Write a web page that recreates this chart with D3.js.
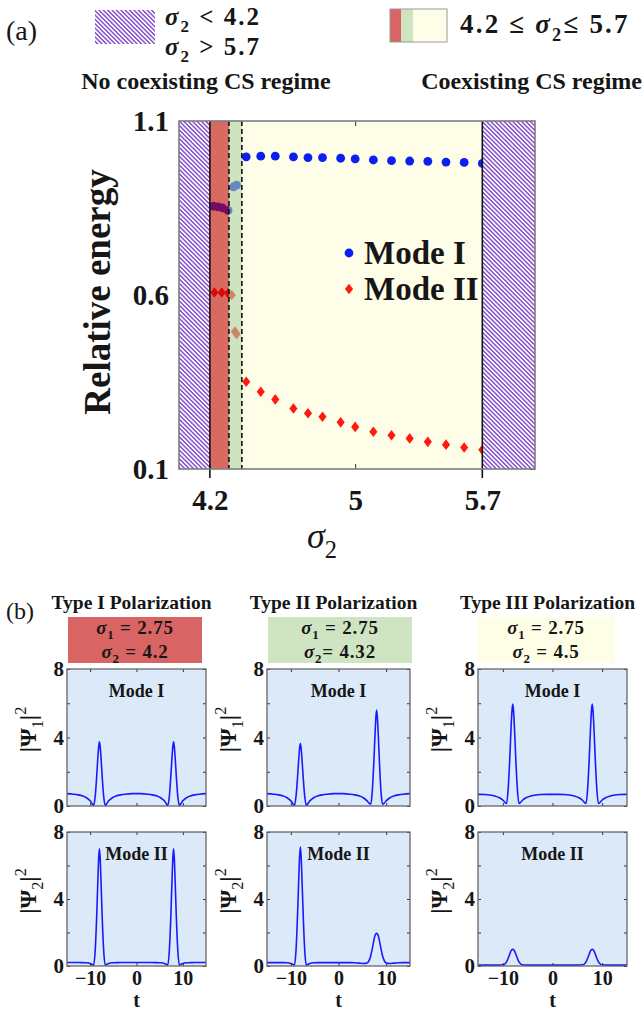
<!doctype html>
<html>
<head>
<meta charset="utf-8">
<style>
  body { margin: 0; background: #fff; }
  text { font-family: "Liberation Serif", "Times New Roman", serif; font-weight: bold; fill: #161616; }
  .axis path { display: none; }
  .axis line { stroke: #333; }
</style>
<script src="https://cdn.jsdelivr.net/npm/d3@7"></script>
</head>
<body>
<svg id="fig" width="643" height="1010"></svg>
<script>

// ---- panel (a) data ----
var modeI_sigma  = [4.22, 4.245, 4.27, 4.30, 4.33, 4.347, 4.4, 4.48, 4.56, 4.66, 4.74, 4.82, 4.92, 5.0, 5.1, 5.2, 5.3, 5.4, 5.5, 5.6, 5.7];
var modeI_energy = [0.855, 0.853, 0.850, 0.843, 0.911, 0.916, 0.997, 0.999, 0.999, 0.997, 0.995, 0.995, 0.993, 0.991, 0.988, 0.986, 0.985, 0.984, 0.982, 0.981, 0.978];
var modeII_sigma  = [4.225, 4.265, 4.30, 4.32, 4.338, 4.347, 4.4, 4.48, 4.56, 4.66, 4.74, 4.82, 4.92, 5.0, 5.1, 5.2, 5.3, 5.4, 5.5, 5.6, 5.7];
var modeII_energy = [0.607, 0.607, 0.605, 0.600, 0.495, 0.488, 0.351, 0.322, 0.300, 0.274, 0.260, 0.250, 0.234, 0.221, 0.207, 0.197, 0.188, 0.178, 0.170, 0.162, 0.155];
var sigmaTicks  = [4.2, 5, 5.7];
var energyTicks = [0.1, 0.6, 1.1];
var bandTypeI   = [4.2, 4.305];
var bandTypeII  = [4.305, 4.376];
var coexist     = [4.2, 5.7];

// ---- panel (b) data: |psi|^2 at these t values ----
var tGrid = [-15, -13.6, -12.6, -11.6, -10.8, -10, -9.6, -9.25, -8.9, -8.6, -8.35, -8.15, -8,
  -7.85, -7.65, -7.4, -7.1, -6.75, -6.4, -6, -5.2, -4.4, -3.4, -2.4, -1, 0,
  1, 2.4, 3.4, 4.4, 5.2, 6, 6.4, 6.75, 7.1, 7.4, 7.65, 7.85, 8,
  8.15, 8.35, 8.6, 8.9, 9.25, 9.6, 10, 10.8, 11.6, 12.6, 13.6, 15];

var typeI_mode1 = [0.72, 0.69, 0.65, 0.58, 0.48, 0.3, 0.15, 0.03, 0.6, 1.7, 2.8, 3.5, 3.75,
  3.5, 2.8, 1.7, 0.6, 0.03, 0.15, 0.3, 0.48, 0.58, 0.65, 0.69, 0.72, 0.72,
  0.72, 0.69, 0.65, 0.58, 0.48, 0.3, 0.15, 0.03, 0.6, 1.7, 2.8, 3.5, 3.75,
  3.5, 2.8, 1.7, 0.6, 0.03, 0.15, 0.3, 0.48, 0.58, 0.65, 0.69, 0.72];
var typeI_mode2 = [0.21, 0.21, 0.21, 0.2, 0.19, 0.15, 0.1, 0.05, 1.0, 2.9, 5.0, 6.5, 7.0,
  6.5, 5.0, 2.9, 1.0, 0.05, 0.1, 0.15, 0.19, 0.2, 0.21, 0.21, 0.21, 0.21,
  0.21, 0.21, 0.21, 0.2, 0.19, 0.15, 0.1, 0.05, 1.0, 2.9, 5.0, 6.5, 7.0,
  6.5, 5.0, 2.9, 1.0, 0.05, 0.1, 0.15, 0.19, 0.2, 0.21, 0.21, 0.21];
var typeII_mode1 = [0.72, 0.69, 0.65, 0.58, 0.48, 0.3, 0.15, 0.03, 0.6, 1.65, 2.7, 3.4, 3.65,
  3.4, 2.7, 1.65, 0.6, 0.03, 0.15, 0.3, 0.48, 0.58, 0.65, 0.69, 0.72, 0.72,
  0.72, 0.69, 0.65, 0.58, 0.48, 0.3, 0.17, 0.1, 0.9, 2.5, 4.1, 5.2, 5.6,
  5.2, 4.1, 2.5, 0.9, 0.1, 0.17, 0.3, 0.48, 0.58, 0.65, 0.69, 0.72];
var typeII_mode2 = [0.2, 0.2, 0.2, 0.2, 0.19, 0.15, 0.1, 0.05, 1.0, 3.0, 5.1, 6.6, 7.1,
  6.6, 5.1, 3.0, 1.0, 0.05, 0.1, 0.15, 0.19, 0.2, 0.2, 0.2, 0.2, 0.2,
  0.2, 0.2, 0.19, 0.17, 0.15, 0.18, 0.32, 0.6, 1.05, 1.5, 1.8, 1.92, 1.95,
  1.92, 1.8, 1.5, 1.05, 0.6, 0.32, 0.18, 0.15, 0.17, 0.19, 0.2, 0.2];
var typeIII_mode1 = [0.68, 0.67, 0.64, 0.58, 0.5, 0.35, 0.22, 0.15, 1.1, 2.8, 4.5, 5.6, 5.95,
  5.6, 4.5, 2.8, 1.1, 0.15, 0.22, 0.35, 0.5, 0.58, 0.64, 0.67, 0.68, 0.68,
  0.68, 0.67, 0.64, 0.58, 0.5, 0.35, 0.22, 0.15, 1.1, 2.8, 4.5, 5.6, 5.95,
  5.6, 4.5, 2.8, 1.1, 0.15, 0.22, 0.35, 0.5, 0.58, 0.64, 0.67, 0.68];
var typeIII_mode2 = [0.05, 0.05, 0.05, 0.05, 0.05, 0.07, 0.12, 0.25, 0.48, 0.72, 0.9, 0.98, 1.0,
  0.98, 0.9, 0.72, 0.48, 0.25, 0.12, 0.07, 0.05, 0.05, 0.05, 0.05, 0.05, 0.05,
  0.05, 0.05, 0.05, 0.05, 0.05, 0.07, 0.12, 0.25, 0.48, 0.72, 0.9, 0.98, 1.0,
  0.98, 0.9, 0.72, 0.48, 0.25, 0.12, 0.07, 0.05, 0.05, 0.05, 0.05, 0.05];

var panelTitles = ["Type I Polarization", "Type II Polarization", "Type III Polarization"];
var panelSigma1 = ["2.75", "2.75", "2.75"];
var panelSigma2 = ["4.2", "4.32", "4.5"];
var panelColors = ["#d96464", "#cfe4c3", "#fefde6"];
var panelModes  = [[typeI_mode1, typeI_mode2], [typeII_mode1, typeII_mode2], [typeIII_mode1, typeIII_mode2]];

var svg = d3.select("#fig");
var defs = svg.append("defs");

var hatch = defs.append("pattern")
    .attr("id", "hatch")
    .attr("patternUnits", "userSpaceOnUse")
    .attr("width", 3.1).attr("height", 3.1)
    .attr("patternTransform", "rotate(-45)");
hatch.append("rect").attr("width", 3.1).attr("height", 3.1).attr("fill", "#fff");
hatch.append("line").attr("x1", 0.8).attr("x2", 0.8).attr("y1", 0).attr("y2", 3.1)
    .attr("stroke", "#7f45c9").attr("stroke-width", 1.4);

// math-ish text: parts = [[string, kind]], kind: "i" italic, "sub" subscript, "sup" superscript
function richText(g, x, y, size, parts, anchor) {
  var t = g.append("text").attr("x", x).attr("y", y)
      .style("font-size", size + "px")
      .attr("text-anchor", anchor || "start");
  var shift = 0;
  parts.forEach(function(p) {
    var s = t.append("tspan").text(p[0]);
    var want = p[1] == "sub" ? size * 0.28 : p[1] == "sup" ? -size * 0.4 : 0;
    if (want != shift) { s.attr("dy", want - shift); shift = want; }
    if (p[1] == "i") s.style("font-style", "italic");
    if (p[1] == "sub" || p[1] == "sup") s.style("font-size", (size * 0.68) + "px");
  });
  return t;
}

// ---------------- top legend ----------------
svg.append("text").attr("x", 6).attr("y", 40).style("font-size", "28px").style("font-weight", "normal").text("(a)");
svg.append("rect").attr("x", 95).attr("y", 10).attr("width", 60).attr("height", 34).attr("fill", "url(#hatch)");
richText(svg, 165, 25, 25, [["σ", "i"], ["2", "sub"], [" < 4.2", ""]]).style("letter-spacing", "2px");
richText(svg, 165, 55, 25, [["σ", "i"], ["2", "sub"], [" > 5.7", ""]]).style("letter-spacing", "2px");
svg.append("text").attr("x", 206).attr("y", 89).attr("text-anchor", "middle").style("font-size", "24px").text("No coexisting CS regime");

var sw = svg.append("g");
sw.append("rect").attr("x", 390).attr("y", 9).attr("width", 57).attr("height", 33).attr("fill", "#fefde8");
sw.append("rect").attr("x", 390).attr("y", 9).attr("width", 11).attr("height", 33).attr("fill", "#d96464");
sw.append("rect").attr("x", 401).attr("y", 9).attr("width", 12).attr("height", 33).attr("fill", "#cfe4c3");
sw.append("rect").attr("x", 390).attr("y", 9).attr("width", 57).attr("height", 33).attr("fill", "none").attr("stroke", "#999").attr("stroke-width", 1);
richText(svg, 460, 33, 27, [["4.2 ≤ ", ""], ["σ", "i"], ["2", "sub"], ["≤ 5.7", ""]]).style("letter-spacing", "2.2px");
svg.append("text").attr("x", 642).attr("y", 89).attr("text-anchor", "end").style("font-size", "24px").text("Coexisting CS regime");

// ---------------- panel (a) ----------------
var x = d3.scaleLinear().domain([4.03, 5.99]).range([179, 535]);
var y = d3.scaleLinear().domain([0.1, 1.1]).range([469, 121]);
var pa = svg.append("g");

pa.append("rect").attr("x", x(coexist[0])).attr("y", y(1.1))
    .attr("width", x(coexist[1]) - x(coexist[0])).attr("height", y(0.1) - y(1.1)).attr("fill", "#fefde8");

var ptsI = modeI_sigma.map(function(s, i) { return [s, modeI_energy[i]]; });
var ptsII = modeII_sigma.map(function(s, i) { return [s, modeII_energy[i]]; });

pa.selectAll("circle.m1").data(ptsI).enter().append("circle")
    .attr("cx", function(d) { return x(d[0]); })
    .attr("cy", function(d) { return y(d[1]); })
    .attr("r", 4.4).attr("fill", "#0b1ff0");

var diamond = d3.symbol().type(d3.symbolSquare).size(46);
pa.selectAll("path.m2").data(ptsII).enter().append("path")
    .attr("d", diamond)
    .attr("transform", function(d) { return "translate(" + x(d[0]) + "," + y(d[1]) + ") scale(0.85,1.1) rotate(45)"; })
    .attr("fill", "#ff1a10");

// translucent regime bands over the points
pa.append("rect").attr("x", x(bandTypeI[0])).attr("y", y(1.1))
    .attr("width", x(bandTypeI[1]) - x(bandTypeI[0])).attr("height", y(0.1) - y(1.1))
    .attr("fill", "rgb(190,0,0)").attr("fill-opacity", 0.58);
pa.append("rect").attr("x", x(bandTypeII[0])).attr("y", y(1.1))
    .attr("width", x(bandTypeII[1]) - x(bandTypeII[0])).attr("height", y(0.1) - y(1.1))
    .attr("fill", "rgb(171,209,164)").attr("fill-opacity", 0.59);

// axes
pa.append("g").attr("class", "axis")
    .attr("transform", "translate(179,0)")
    .call(d3.axisLeft(y).tickValues(energyTicks).tickSize(0).tickPadding(10).tickFormat(d3.format(".1f")))
    .selectAll("text").style("font-size", "29px").style("font-family", "Liberation Serif").style("font-weight", "bold");
pa.append("g").attr("class", "axis")
    .attr("transform", "translate(535,0)")
    .call(d3.axisRight(y).tickValues(energyTicks).tickSize(-5).tickFormat(""));
pa.append("g").attr("class", "axis")
    .attr("transform", "translate(0,469)")
    .call(d3.axisBottom(x).tickValues(sigmaTicks).tickSize(-5).tickPadding(20)
      .tickFormat(function(d) { return d == 5 ? "5" : d3.format(".1f")(d); }))
    .selectAll("text").style("font-size", "29px").style("font-family", "Liberation Serif").style("font-weight", "bold");
pa.append("g").attr("class", "axis")
    .attr("transform", "translate(0,121)")
    .call(d3.axisTop(x).tickValues([5]).tickSize(-5).tickFormat(""));

// hatched "no coexisting" regions
pa.append("rect").attr("x", x(4.03)).attr("y", y(1.1))
    .attr("width", x(4.2) - x(4.03)).attr("height", y(0.1) - y(1.1)).attr("fill", "url(#hatch)");
pa.append("rect").attr("x", x(5.7)).attr("y", y(1.1))
    .attr("width", x(5.99) - x(5.7)).attr("height", y(0.1) - y(1.1)).attr("fill", "url(#hatch)");

// boundaries
[bandTypeI[1], bandTypeII[1]].forEach(function(s) {
  pa.append("line").attr("x1", x(s)).attr("x2", x(s)).attr("y1", y(1.1)).attr("y2", y(0.1))
    .attr("stroke", "#111").attr("stroke-width", 1.6).attr("stroke-dasharray", "5,3");
});
coexist.forEach(function(s) {
  pa.append("line").attr("x1", x(s)).attr("x2", x(s)).attr("y1", y(1.1)).attr("y2", y(0.1) + 9)
    .attr("stroke", "#111").attr("stroke-width", 1.6);
});
pa.append("rect").attr("x", 179).attr("y", 121).attr("width", 356).attr("height", 348)
    .attr("fill", "none").attr("stroke", "#7d7d7d").attr("stroke-width", 1.6);

// legend
pa.append("circle").attr("cx", 349).attr("cy", 253).attr("r", 4.4).attr("fill", "#0b1ff0");
pa.append("path").attr("d", diamond).attr("transform", "translate(349,289) scale(0.85,1.1) rotate(45)").attr("fill", "#ff1a10");
pa.append("text").attr("x", 364).attr("y", 264).style("font-size", "33px").text("Mode I");
pa.append("text").attr("x", 364).attr("y", 300).style("font-size", "33px").text("Mode II");

// axis titles
pa.append("text").attr("transform", "translate(110,292) rotate(-90)").attr("text-anchor", "middle")
    .style("font-size", "37px").text("Relative energy");
richText(pa, 322, 548, 36, [["σ", "i"], ["2", "sub"]], "middle").style("font-weight", "normal");

// ---------------- panel (b) ----------------
svg.append("text").attr("x", 6).attr("y", 619).style("font-size", "24px").style("font-weight", "normal").text("(b)");

var colX = [[67, 206], [267, 410], [478, 627]];
var boxX = [[68, 202], [268, 412], [477, 615]];
var rowY = [[669, 806], [832, 966]];
var modeNames = ["Mode I", "Mode II"];

colX.forEach(function(cx, c) {
  var mid = (boxX[c][0] + boxX[c][1]) / 2;
  svg.append("text").attr("x", (cx[0] + cx[1]) / 2 - 5).attr("y", 609).attr("text-anchor", "middle")
      .style("font-size", "19.5px").text(panelTitles[c]);
  svg.append("rect").attr("x", boxX[c][0]).attr("y", 617).attr("width", boxX[c][1] - boxX[c][0]).attr("height", 46)
      .attr("fill", panelColors[c]);
  richText(svg, mid, 634, 19, [["σ", "i"], ["1", "sub"], [" = " + panelSigma1[c], ""]], "middle").style("letter-spacing", "0.8px");
  richText(svg, mid, 658, 19, [["σ", "i"], ["2", "sub"], [(c == 1 ? "= " : " = ") + panelSigma2[c], ""]], "middle").style("letter-spacing", "0.8px");

  rowY.forEach(function(ry, r) {
    var g = svg.append("g");
    var xs = d3.scaleLinear().domain([-15, 15]).range(cx);
    var ys = d3.scaleLinear().domain([0, 8]).range([ry[1], ry[0]]);
    g.append("rect").attr("x", cx[0]).attr("y", ry[0]).attr("width", cx[1] - cx[0]).attr("height", ry[1] - ry[0])
        .attr("fill", "#dce9f8");

    var line = d3.line().x(function(d, i) { return xs(tGrid[i]); }).y(function(d) { return ys(d); })
        .curve(d3.curveMonotoneX);
    g.append("path").datum(panelModes[c][r]).attr("d", line)
        .attr("fill", "none").attr("stroke", "#1a1aff").attr("stroke-width", 1.6);

    var ax = g.append("g").attr("class", "axis").attr("transform", "translate(" + cx[0] + ",0)")
        .call(d3.axisLeft(ys).tickValues([0, 2, 4, 6, 8]).tickSize(-3).tickPadding(3)
          .tickFormat(function(d) { return d % 4 == 0 ? d : ""; }));
    ax.selectAll("text").style("font-size", "21px").style("font-family", "Liberation Serif").style("font-weight", "bold");
    g.append("g").attr("class", "axis").attr("transform", "translate(" + cx[1] + ",0)")
        .call(d3.axisRight(ys).tickValues([0, 2, 4, 6, 8]).tickSize(-3).tickFormat(""));
    g.append("g").attr("class", "axis").attr("transform", "translate(0," + ry[0] + ")")
        .call(d3.axisTop(xs).tickValues([-10, 0, 10]).tickSize(-3).tickFormat(""));
    var bx = g.append("g").attr("class", "axis").attr("transform", "translate(0," + ry[1] + ")")
        .call(d3.axisBottom(xs).tickValues([-10, 0, 10]).tickSize(-3).tickPadding(5)
          .tickFormat(r == 1 ? d3.format("d") : ""));
    bx.selectAll("text").style("font-size", "20px").style("font-family", "Liberation Serif").style("font-weight", "bold");

    g.append("rect").attr("x", cx[0]).attr("y", ry[0]).attr("width", cx[1] - cx[0]).attr("height", ry[1] - ry[0])
        .attr("fill", "none").attr("stroke", "#666").attr("stroke-width", 1.3);

    g.append("text").attr("x", (cx[0] + cx[1]) / 2).attr("y", ry[0] + 28).attr("text-anchor", "middle")
        .style("font-size", "18px").text(modeNames[r]);

    var lab = richText(g, 0, 0, 24, [["|Ψ", ""], [String(r + 1), "sub"], ["|", ""], ["2", "sup"]], "middle");
    lab.attr("transform", "translate(" + (cx[0] - 31) + "," + ((ry[0] + ry[1]) / 2 - 8) + ") rotate(-90)");
    lab.selectAll("tspan").filter(function(d, i) { return i == 1 || i == 3; }).style("font-weight", "normal");

    if (r == 1) {
      g.append("text").attr("x", xs(0)).attr("y", 1007).attr("text-anchor", "middle").style("font-size", "20px").text("t");
    }
  });
});
</script>
</body>
</html>
